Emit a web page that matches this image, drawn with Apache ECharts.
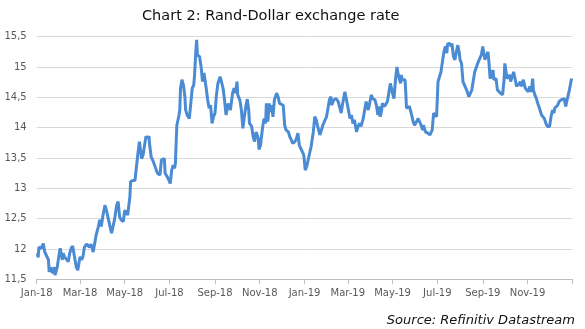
<!DOCTYPE html>
<html>
<head>
<meta charset="utf-8">
<title>Rand-Dollar exchange rate</title>
<script src="https://cdn.jsdelivr.net/npm/echarts@6/dist/echarts.min.js"></script>
<style>
html, body { margin: 0; padding: 0; background: #fff; }
#chart { width: 585px; height: 329px; }
</style>
</head>
<body>
<div id="chart"></div>
<script>
// USD/ZAR
var dates = [
    '2018-01-02','2018-01-03','2018-01-04','2018-01-07','2018-01-10','2018-01-12','2018-01-14','2018-01-17','2018-01-18','2018-01-20',
    '2018-01-23','2018-01-25','2018-01-26','2018-01-29','2018-01-31','2018-02-02','2018-02-05','2018-02-06','2018-02-08','2018-02-10',
    '2018-02-13','2018-02-15','2018-02-17','2018-02-19','2018-02-22','2018-02-24','2018-02-26','2018-03-01','2018-03-03','2018-03-05',
    '2018-03-07','2018-03-10','2018-03-12','2018-03-14','2018-03-16','2018-03-19','2018-03-21','2018-03-23','2018-03-26','2018-03-28',
    '2018-03-30','2018-04-01','2018-04-04','2018-04-06','2018-04-08','2018-04-10','2018-04-13','2018-04-15','2018-04-17','2018-04-20',
    '2018-04-22','2018-04-24','2018-04-26','2018-04-29','2018-05-01','2018-05-03','2018-05-05','2018-05-08','2018-05-09','2018-05-12',
    '2018-05-15','2018-05-17','2018-05-19','2018-05-21','2018-05-24','2018-05-26','2018-05-28','2018-05-30','2018-06-01','2018-06-03',
    '2018-06-04','2018-06-06','2018-06-09','2018-06-11','2018-06-13','2018-06-15','2018-06-18','2018-06-20','2018-06-22','2018-06-24',
    '2018-06-25','2018-06-28','2018-06-30','2018-07-02','2018-07-04','2018-07-06','2018-07-08','2018-07-09','2018-07-11','2018-07-14',
    '2018-07-15','2018-07-16','2018-07-18','2018-07-20','2018-07-22','2018-07-23','2018-07-25','2018-07-28','2018-07-30','2018-08-01',
    '2018-08-03','2018-08-04','2018-08-06','2018-08-07','2018-08-08','2018-08-11','2018-08-13','2018-08-15','2018-08-17','2018-08-19',
    '2018-08-20','2018-08-22','2018-08-24','2018-08-26','2018-08-28','2018-08-30','2018-09-01','2018-09-03','2018-09-05','2018-09-08',
    '2018-09-10','2018-09-12','2018-09-14','2018-09-16','2018-09-19','2018-09-21','2018-09-22','2018-09-25','2018-09-27','2018-09-29',
    '2018-10-01','2018-10-02','2018-10-05','2018-10-07','2018-10-09','2018-10-11','2018-10-13','2018-10-15','2018-10-17','2018-10-18',
    '2018-10-21','2018-10-23','2018-10-25','2018-10-27','2018-10-30','2018-10-31','2018-11-02','2018-11-04','2018-11-05','2018-11-07',
    '2018-11-09','2018-11-10','2018-11-12','2018-11-14','2018-11-16','2018-11-17','2018-11-19','2018-11-21','2018-11-24','2018-11-26',
    '2018-11-28','2018-11-30','2018-12-03','2018-12-05','2018-12-07','2018-12-10','2018-12-12','2018-12-14','2018-12-16','2018-12-19',
    '2018-12-21','2018-12-23','2018-12-25','2018-12-28','2018-12-30','2018-12-31','2019-01-02','2019-01-04','2019-01-06','2019-01-08',
    '2019-01-10','2019-01-13','2019-01-15','2019-01-17','2019-01-19','2019-01-22','2019-01-24','2019-01-26','2019-01-28','2019-01-31',
    '2019-02-02','2019-02-04','2019-02-06','2019-02-07','2019-02-10','2019-02-12','2019-02-13','2019-02-16','2019-02-18','2019-02-20',
    '2019-02-22','2019-02-25','2019-02-27','2019-03-01','2019-03-04','2019-03-06','2019-03-08','2019-03-10','2019-03-13','2019-03-15',
    '2019-03-17','2019-03-19','2019-03-22','2019-03-24','2019-03-26','2019-03-29','2019-03-31','2019-04-02','2019-04-04','2019-04-07',
    '2019-04-09','2019-04-11','2019-04-13','2019-04-14','2019-04-16','2019-04-17','2019-04-20','2019-04-22','2019-04-24','2019-04-26',
    '2019-04-28','2019-04-30','2019-05-01','2019-05-03','2019-05-05','2019-05-07','2019-05-08','2019-05-10','2019-05-12','2019-05-13',
    '2019-05-14','2019-05-16','2019-05-18','2019-05-19','2019-05-20','2019-05-22','2019-05-24','2019-05-27','2019-05-29','2019-05-31',
    '2019-06-02','2019-06-05','2019-06-07','2019-06-09','2019-06-11','2019-06-12','2019-06-15','2019-06-17','2019-06-18','2019-06-21',
    '2019-06-23','2019-06-24','2019-06-26','2019-06-27','2019-06-30','2019-07-02','2019-07-04','2019-07-06','2019-07-09','2019-07-10',
    '2019-07-12','2019-07-14','2019-07-15','2019-07-18','2019-07-20','2019-07-21','2019-07-23','2019-07-25','2019-07-27','2019-07-29',
    '2019-07-31','2019-08-01','2019-08-03','2019-08-05','2019-08-07','2019-08-10','2019-08-12','2019-08-13','2019-08-15','2019-08-17',
    '2019-08-19','2019-08-21','2019-08-23','2019-08-26','2019-08-28','2019-08-30','2019-09-01','2019-09-02','2019-09-04','2019-09-06',
    '2019-09-08','2019-09-09','2019-09-11','2019-09-13','2019-09-15','2019-09-16','2019-09-19','2019-09-21','2019-09-23','2019-09-25',
    '2019-09-28','2019-09-30','2019-10-01','2019-10-02','2019-10-04','2019-10-06','2019-10-08','2019-10-09','2019-10-11','2019-10-13',
    '2019-10-15','2019-10-17','2019-10-19','2019-10-20','2019-10-22','2019-10-24','2019-10-26','2019-10-28','2019-10-29','2019-10-31',
    '2019-11-02','2019-11-04','2019-11-06','2019-11-08','2019-11-09','2019-11-11','2019-11-13','2019-11-15','2019-11-18','2019-11-20',
    '2019-11-22','2019-11-24','2019-11-26','2019-11-28','2019-11-30','2019-12-01','2019-12-03','2019-12-05','2019-12-07','2019-12-08',
    '2019-12-10','2019-12-12','2019-12-14','2019-12-16','2019-12-17','2019-12-19','2019-12-21','2019-12-23','2019-12-25','2019-12-27',
    '2019-12-28','2019-12-30','2019-12-31'
];
var rates = [
    11.93, 11.86, 12.03, 12.01, 12.09, 11.95, 11.95, 11.82, 11.62, 11.70,
    11.60, 11.70, 11.57, 11.70, 11.87, 12.01, 11.82, 11.93, 11.87, 11.90,
    11.79, 11.93, 12.01, 12.05, 11.84, 11.70, 11.65, 11.87, 11.82, 11.87,
    12.03, 12.08, 12.06, 12.03, 12.08, 11.95, 12.09, 12.23, 12.37, 12.48,
    12.37, 12.53, 12.72, 12.64, 12.53, 12.56, 12.26, 12.28, 12.48, 12.72,
    12.78, 12.53, 12.48, 12.45, 12.64, 12.67, 12.56, 12.86, 13.11, 13.13,
    13.13, 13.36, 13.58, 13.77, 13.49, 13.55, 13.71, 13.86, 13.82, 13.86,
    13.71, 13.52, 13.44, 13.41, 13.30, 13.24, 13.22, 13.47, 13.49, 13.49,
    13.25, 13.19, 13.14, 13.08, 13.30, 13.38, 13.33, 13.41, 14.04, 14.21,
    14.29, 14.65, 14.79, 14.70, 14.51, 14.29, 14.21, 14.15, 14.13, 14.65,
    14.70, 14.84, 15.28, 15.45, 15.20, 15.17, 15.01, 14.76, 14.90, 14.90,
    14.65, 14.46, 14.32, 14.37, 14.07, 14.18, 14.24, 14.54, 14.73, 14.84,
    14.87, 14.65, 14.46, 14.21, 14.40, 14.40, 14.29, 14.57, 14.65, 14.57,
    14.76, 14.54, 14.45, 14.29, 13.99, 14.18, 14.35, 14.47, 14.29, 14.07,
    14.02, 13.85, 13.77, 13.93, 13.82, 13.64, 13.71, 13.69, 14.02, 14.15,
    14.07, 14.40, 14.10, 14.40, 14.26, 14.37, 14.18, 14.46, 14.57, 14.51,
    14.40, 14.43, 14.37, 14.04, 13.96, 13.93, 13.85, 13.80, 13.74, 13.77,
    13.82, 13.91, 13.71, 13.63, 13.66, 13.55, 13.30, 13.36, 13.47, 13.58,
    13.69, 13.93, 14.18, 14.13, 14.02, 13.88, 13.88, 14.04, 14.10, 14.18,
    14.21, 14.46, 14.51, 14.37, 14.46, 14.43, 14.48, 14.43, 14.46, 14.24,
    14.40, 14.59, 14.62, 14.35, 14.15, 14.21, 14.07, 14.13, 13.93, 14.02,
    14.07, 14.02, 14.15, 14.29, 14.43, 14.29, 14.32, 14.54, 14.48, 14.46,
    14.37, 14.21, 14.35, 14.18, 14.27, 14.40, 14.35, 14.39, 14.43, 14.46,
    14.73, 14.76, 14.57, 14.48, 14.79, 15.00, 14.92, 14.81, 14.73, 14.87,
    14.79, 14.79, 14.79, 14.59, 14.32, 14.35, 14.35, 14.21, 14.10, 14.04,
    14.07, 14.15, 14.15, 14.04, 13.96, 14.04, 13.93, 13.93, 13.91, 13.88,
    13.85, 13.96, 14.24, 14.21, 14.18, 14.76, 14.84, 14.92, 15.17, 15.25,
    15.34, 15.23, 15.38, 15.39, 15.34, 15.39, 15.17, 15.12, 15.25, 15.36,
    15.23, 15.12, 15.06, 14.76, 14.73, 14.62, 14.65, 14.51, 14.52, 14.62,
    14.65, 14.92, 14.90, 15.09, 15.12, 15.20, 15.34, 15.25, 15.12, 15.14,
    15.25, 15.14, 14.81, 14.79, 14.95, 14.79, 14.81, 14.62, 14.59, 14.57,
    14.54, 14.79, 15.06, 14.98, 14.81, 14.79, 14.87, 14.76, 14.79, 14.92,
    14.81, 14.68, 14.73, 14.69, 14.76, 14.68, 14.79, 14.70, 14.65, 14.68,
    14.59, 14.68, 14.59, 14.81, 14.62, 14.54, 14.48, 14.40, 14.29, 14.21,
    14.18, 14.15, 14.07, 14.02, 13.99, 14.02, 14.18, 14.29, 14.24, 14.32,
    14.29, 14.37, 14.43, 14.40, 14.46, 14.46, 14.48, 14.35, 14.46, 14.57,
    14.62, 14.65, 14.81
];
// x-axis ticks every two months
var tickDates = ['2018-01-01','2018-03-01','2018-05-01','2018-07-01','2018-09-01','2018-11-01',
    '2019-01-01','2019-03-01','2019-05-01','2019-07-01','2019-09-01','2019-11-01','2020-01-01'];
var tickLabels = ['Jan-18','Mar-18','May-18','Jul-18','Sep-18','Nov-18',
    'Jan-19','Mar-19','May-19','Jul-19','Sep-19','Nov-19',''];

function toTime(s) {
    var p = s.split('-');
    return Date.UTC(+p[0], +p[1] - 1, +p[2]);
}

var tickTimes = tickDates.map(toTime);
var seriesData = dates.map(function (d, i) {
    return [toTime(d), rates[i]];
});

var chart = echarts.init(document.getElementById('chart'));
var option = {
    animation: false,
    textStyle: { fontFamily: 'DejaVu Sans' },
    title: [
        {
            text: 'Chart 2: Rand-Dollar exchange rate',
            left: 137,
            top: 4,
            textStyle: { fontSize: 14.5, fontWeight: 'normal', color: '#111', fontFamily: 'DejaVu Sans' }
        },
        {
            text: 'Source: Refinitiv Datastream',
            right: 5,
            top: 309,
            textStyle: { fontSize: 13, fontWeight: 'normal', fontStyle: 'italic', color: '#111', fontFamily: 'DejaVu Sans' }
        }
    ],
    grid: { left: 36.7, right: 12.7, top: 36.7, bottom: 49.7 },
    xAxis: {
        type: 'value',
        min: tickTimes[0],
        max: tickTimes[tickTimes.length - 1],
        axisLine: { lineStyle: { color: '#bfbfbf', width: 1 } },
        axisTick: { show: true, length: 5, customValues: tickTimes, lineStyle: { color: '#bfbfbf' } },
        axisLabel: {
            customValues: tickTimes,
            margin: 9,
            color: '#595959',
            fontSize: 10,
            fontFamily: 'DejaVu Sans',
            formatter: function (value) {
                var i = tickTimes.indexOf(value);
                return i >= 0 ? tickLabels[i] : '';
            }
        },
        splitLine: { show: false }
    },
    yAxis: {
        type: 'value',
        min: 11.5,
        max: 15.5,
        interval: 0.5,
        axisLine: { show: false },
        axisTick: { show: false },
        axisLabel: {
            margin: 10,
            color: '#595959',
            fontSize: 10,
            fontFamily: 'DejaVu Sans',
            formatter: function (v) { return String(v).replace('.', ','); }
        },
        splitLine: { lineStyle: { color: '#d9d9d9', width: 1 } }
    },
    series: [{
        type: 'line',
        data: seriesData,
        showSymbol: false,
        lineStyle: { color: '#4a8bd4', width: 3 },
        itemStyle: { color: '#4a8bd4' }
    }]
};
chart.setOption(option);
</script>
</body>
</html>
